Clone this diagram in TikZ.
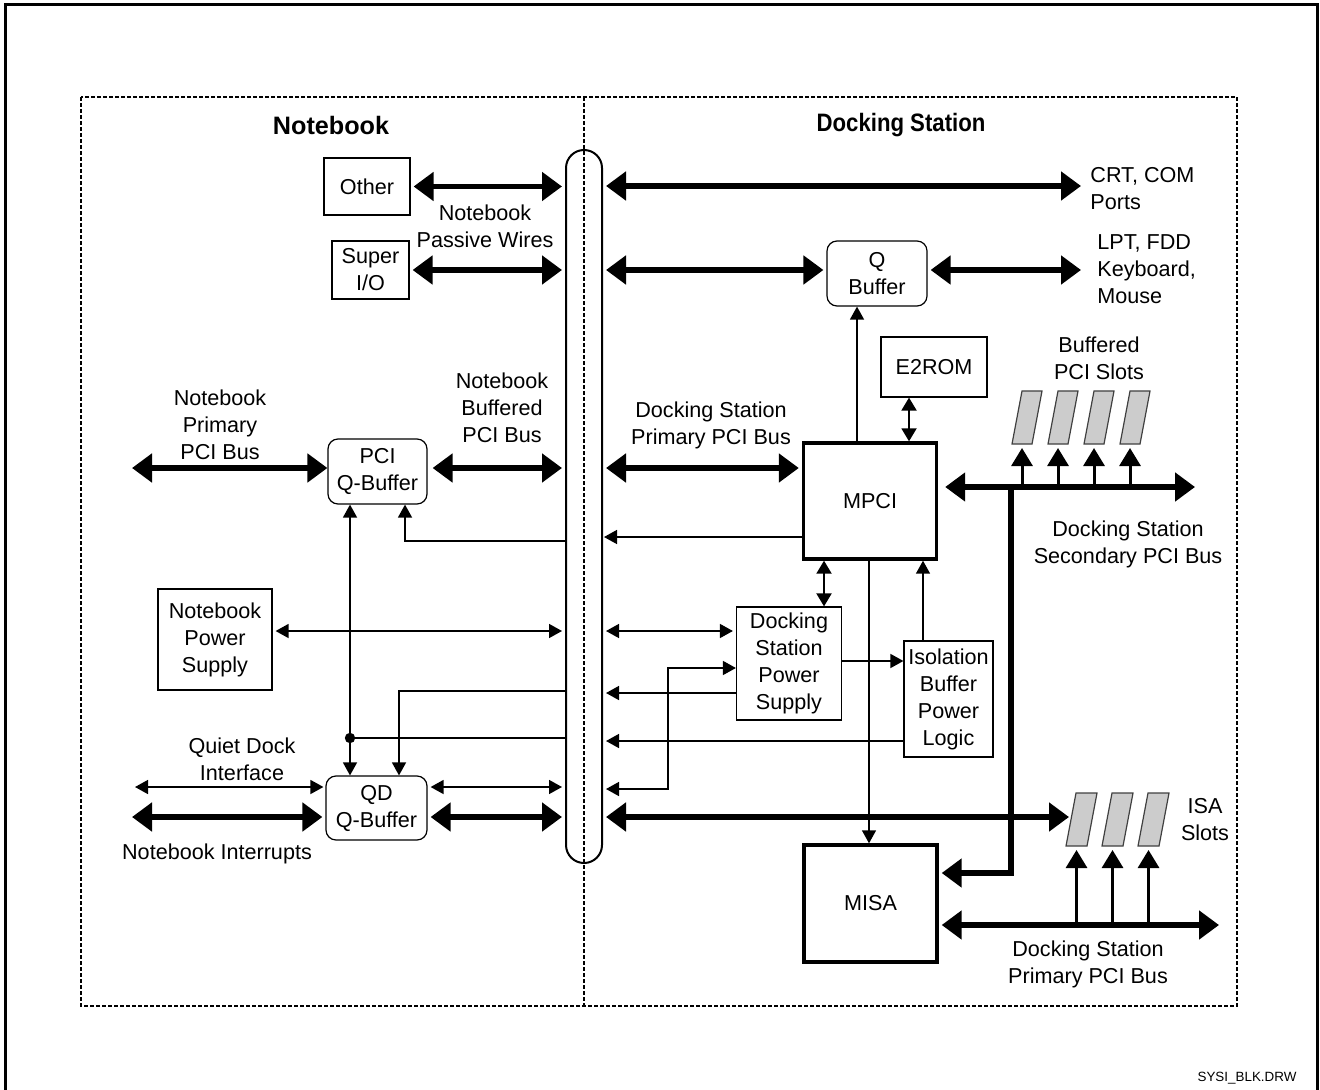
\documentclass[tikz,border=0pt]{standalone}
\usepackage{graphicx}
\usepackage{fontspec}
\setmainfont{Liberation Sans}
\usetikzlibrary{arrows.meta}
\begin{document}
\begin{tikzpicture}[x=0.5pt,y=-0.5pt,
  every node/.style={font=\fontsize{10.8}{13.5}\selectfont, inner sep=0pt, align=center},
  box/.style={draw, line width=0.6pt},
  rbox/.style={draw, line width=0.6pt, rounded corners=5pt},
  heavybox/.style={draw, line width=1.7pt},
  title/.style={font=\fontsize{12.6}{15}\selectfont\bfseries},
  bigbus/.style={line width=2.6pt, >={Triangle[length=10pt,width=14pt]}},
  thinarrow/.style={line width=0.75pt, >={Triangle[length=6.5pt,width=7pt]}},
  midarrow/.style={line width=1pt, >={Triangle[length=6.5pt,width=7.5pt]}},
  slotarrow/.style={line width=1.5pt, >={Triangle[length=9pt,width=10.5pt]}},
  slot/.style={draw=black!75, fill=black!20, line width=0.6pt},
  gap/.style={shorten <=1.5pt, shorten >=1.5pt},
  framedash/.style={line width=0.6pt, dash pattern=on 2pt off 1pt}
]
\useasboundingbox (0,0) rectangle (1320,1090);

% outer frame
\draw[line width=1.5pt] (5,1100) -- (5,5) -- (1317,5) -- (1317,1100);

% dashed regions
\draw[framedash] (81,97) rectangle (1237,1006);
\draw[framedash] (584,97) -- (584,1006);

% titles
\node[title] (tnb) at (331,125) {Notebook};
\node[title] (tds) at (901,125) {\scalebox{0.88}[1]{Docking Station}};

% bus capsule
\node[draw, line width=1pt, rounded corners=9pt, minimum width=18pt, minimum height=356.5pt] (bus) at (584,506.5) {};

% boxes
\node[box, minimum width=43pt, minimum height=28.5pt] (other) at (367,186.5) {Other};
\node[box, minimum width=38.5pt, minimum height=29pt] (superio) at (370.5,270) {Super\\I/O};
\node[rbox, minimum width=49.5pt, minimum height=32.5pt] (pciq) at (377.5,471.5) {PCI\\Q-Buffer};
\node[box, minimum width=57pt, minimum height=50.5pt] (nps) at (215,639.5) {Notebook\\Power\\Supply};
\node[rbox, minimum width=50.5pt, minimum height=32pt] (qd) at (376.5,808) {QD\\Q-Buffer};
\node[rbox, minimum width=50pt, minimum height=32.5pt] (qbuf) at (877,273.5) {Q\\Buffer};
\node[box, minimum width=53pt, minimum height=30pt] (e2rom) at (934,367) {E2ROM};
\node[heavybox, minimum width=66.5pt, minimum height=58pt] (mpci) at (870,501) {MPCI};
\node[box, minimum width=52.5pt, minimum height=56.5pt] (dsps) at (789,663.5) {Docking\\Station\\Power\\Supply};
\node[box, minimum width=44.5pt, minimum height=58pt] (iso) at (948.5,699) {Isolation\\Buffer\\Power\\Logic};
\node[heavybox, minimum width=66.5pt, minimum height=58.5pt] (misa) at (870.5,903.5) {MISA};

% labels
\node (lpw) at (485,226) {Notebook\\Passive Wires};
\node (lnpp) at (220,425) {Notebook\\Primary\\PCI Bus};
\node (lnbp) at (502,408) {Notebook\\Buffered\\PCI Bus};
\node[anchor=west, align=left] (lcrt) at (1090,189) {CRT, COM\\Ports};
\node[anchor=west, align=left] (llpt) at (1097,269) {LPT, FDD\\Keyboard,\\Mouse};
\node (lbps) at (1099,358) {Buffered\\PCI Slots};
\node (ldpp) at (711,425) {Docking Station\\Primary PCI Bus};
\node (ldsp) at (1128,544) {Docking Station\\Secondary PCI Bus};
\node (lisa) at (1205,820) {ISA\\Slots};
\node (ldpb) at (1088,964) {Docking Station\\Primary PCI Bus};
\node (lqdi) at (242,759) {Quiet Dock\\Interface};
\node (lni) at (217,854) {Notebook Interrupts};
\node[font=\fontsize{6.7}{8}\selectfont] (lfile) at (1247,1078) {SYSI\_BLK.DRW};

% ---- notebook side connectors
\draw[bigbus,<->,gap] (other.east) -- (bus.west |- other.east);
\draw[bigbus,<->,gap] (superio.east) -- (bus.west |- superio.east);
\coordinate (npbL) at (132,468);
\draw[bigbus,<->] (npbL) -- (pciq.west |- npbL);
\draw[bigbus,<->,shorten <=2.5pt,shorten >=1.5pt] (pciq.east |- npbL) -- (bus.west |- npbL);
\draw[thinarrow,->] (bus.west |- 0,541) -- (405,541) -- (405,0 |- pciq.south);
\draw[thinarrow,<->,gap] (nps.east |- 0,631) -- (bus.west |- 0,631);
\draw[thinarrow,<->] (350,0 |- pciq.south) -- (350,0 |- qd.north);
\coordinate (j) at (350,738);
\fill (j) circle (2.6pt);
\draw[thinarrow] (j) -- (bus.west |- j);
\draw[thinarrow,->] (bus.west |- 0,691) -- (399,691) -- (399,0 |- qd.north);
\coordinate (qdiL) at (135,787);
\draw[thinarrow,<->,shorten >=1pt] (qdiL) -- (qd.west |- qdiL);
\coordinate (niL) at (132,817);
\draw[bigbus,<->,shorten >=1.5pt] (niL) -- (qd.west |- niL);
\draw[thinarrow,<->,gap] (qd.east |- qdiL) -- (bus.west |- qdiL);
\draw[bigbus,<->,gap] (qd.east |- niL) -- (bus.west |- niL);

% ---- docking station connectors
\coordinate (crtR) at (1081,186);
\draw[bigbus,<->,shorten <=1.5pt] (bus.east |- crtR) -- (crtR);
\coordinate (lptR) at (1081,270);
\draw[bigbus,<->,gap] (bus.east |- lptR) -- (qbuf.west |- lptR);
\draw[bigbus,<->,shorten <=1.5pt] (qbuf.east |- lptR) -- (lptR);
\draw[thinarrow,->] (857,0 |- mpci.north) -- (857,0 |- qbuf.south);
\draw[midarrow,<->] (909,0 |- e2rom.south) -- (909,0 |- mpci.north);
\draw[bigbus,<->,gap] (bus.east |- npbL) -- (mpci.west |- npbL);
\coordinate (spbR) at (1195,487);
\draw[bigbus,<->,shorten <=3.5pt] (mpci.east |- spbR) -- (spbR);
\coordinate (spj) at (1011,487);
\draw[bigbus,->,shorten >=1.5pt] (spj) -- (1011,873) -- (misa.east |- 0,873);
\draw[thinarrow,->,shorten >=0.5pt] (mpci.west |- 0,537) -- (bus.east |- 0,537);

% PCI slots
\foreach \i/\x in {1/1022,2/1058,3/1094,4/1130}{
  \draw[slot] (\x,391) -- ++(20,0) -- ++(-10,53) -- ++(-20,0) -- cycle;
  \coordinate (ps\i) at (\x,448);
  \draw[slotarrow,->] (\x,487) -- (ps\i);
}

\draw[midarrow,<->] (824,0 |- mpci.south) -- (824,0 |- dsps.north);
\draw[thinarrow,->] (923,0 |- iso.north) -- (923,0 |- mpci.south);
\draw[thinarrow,->] (dsps.east |- 0,661) -- (iso.west |- 0,661);
\draw[thinarrow,<->,gap] (bus.east |- 0,631) -- (dsps.west |- 0,631);
\draw[thinarrow,<->,shorten <=1.5pt] (bus.east |- 0,789) -- (668,789) -- (668,668) -- (dsps.west |- 0,668);
\draw[thinarrow,->,shorten >=1.5pt] (dsps.west |- 0,693) -- (bus.east |- 0,693);
\draw[thinarrow,->,shorten >=1.5pt] (iso.west |- 0,741) -- (bus.east |- 0,741);
\coordinate (isaR) at (1069,817);
\draw[bigbus,<->,shorten <=1.5pt] (bus.east |- isaR) -- (isaR);
\draw[thinarrow,->] (869,0 |- mpci.south) -- (869,0 |- misa.north);
\coordinate (dpbR) at (1219,925);
\draw[bigbus,<->,shorten <=1.5pt] (misa.east |- dpbR) -- (dpbR);

% ISA slots
\foreach \i/\x in {1/1066,2/1102,3/1138}{
  \draw[slot] (\x+10,793) -- ++(21,0) -- ++(-10,53) -- ++(-21,0) -- cycle;
  \coordinate (is\i) at (\x+10.5,850);
  \draw[slotarrow,->] (\x+10.5,925) -- (is\i);
}
\end{tikzpicture}
\end{document}
